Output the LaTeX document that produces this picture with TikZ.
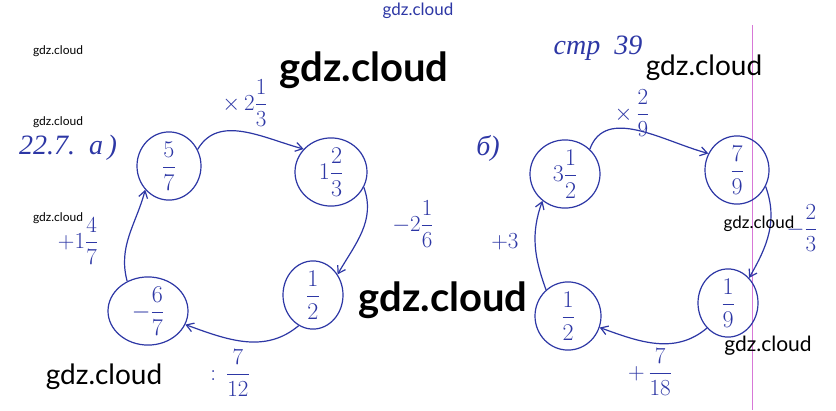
\RequirePackage{fix-cm}
\documentclass[tikz,border=0pt]{standalone}
\usepackage{fontspec}
\usepackage{amsmath}
\setmainfont{Liberation Serif}
\newfontfamily\wmfont{Lato}
\newfontfamily\handfont{Liberation Serif}
\usetikzlibrary{shapes.geometric,arrows.meta}
\definecolor{ink}{RGB}{45,55,165}
\definecolor{wmblack}{RGB}{0,0,0}
\definecolor{margin}{RGB}{215,120,215}
\tikzset{
  numnode/.style={ellipse,draw=ink,line width=1.2pt,inner sep=0pt,text=ink,font=\fontsize{24}{28}\selectfont},
  link/.style={draw=ink,line width=1.2pt,-{Straight Barb[length=7pt,width=9pt]}},
  lbl/.style={text=ink,inner sep=0pt,font=\fontsize{23}{26}\selectfont},
  hand/.style={text=ink,inner sep=0pt,font=\handfont\itshape\fontsize{28}{32}\selectfont},
  wm/.style={text=wmblack,inner sep=0pt,font=\wmfont},
}
\begin{document}
\begin{tikzpicture}[x=1pt,y=1pt]
\useasboundingbox (0,0) rectangle (836,-410);
\fill[white] (0,0) rectangle (836,-410);
% margin line
\coordinate (m1) at (752,-25);
\coordinate (m2) at (752,-410);
\draw[margin,line width=0.8pt] (m1) -- (m2);
% left cycle
\node[numnode,minimum width=64pt,minimum height=58pt] (A) at (169,-166) {$\dfrac{5}{7}$};
\node[numnode,minimum width=72pt,minimum height=66pt] (B) at (331,-172) {$1\dfrac{2}{3}$};
\node[numnode,minimum width=60pt,minimum height=66pt] (C) at (313,-295) {$\dfrac{1}{2}$};
\node[numnode,minimum width=80pt,minimum height=68pt] (D) at (148,-311) {$-\dfrac{6}{7}$};
\draw[link] (A.30) to[out=60,in=165] (B.140);
\draw[link] (B.-25) to[out=-70,in=60] (C.40);
\draw[link] (C.-115) to[out=-140,in=-20] (D.-20);
\draw[link] (D.125) to[out=105,in=-105] (A.-135);
\node[lbl] (lab1) at (245,-103) {$\times\,2\dfrac{1}{3}$};
\node[lbl] (lab2) at (413,-224) {$-2\dfrac{1}{6}$};
\node[lbl] (lab3) at (230,-373) {$:\,\dfrac{7}{12}$};
\node[lbl] (lab4) at (78,-241) {$+1\dfrac{4}{7}$};
\node[hand] (ta) at (68,-148) {22.7.\ \ а\,)};
% right cycle
\node[numnode,minimum width=70pt,minimum height=68pt] (E) at (565,-174) {$3\dfrac{1}{2}$};
\node[numnode,minimum width=64pt,minimum height=66pt] (F) at (737,-170) {$\dfrac{7}{9}$};
\node[numnode,minimum width=60pt,minimum height=60pt] (G) at (728,-303) {$\dfrac{1}{9}$};
\node[numnode,minimum width=66pt,minimum height=58pt] (H) at (568,-316) {$\dfrac{1}{2}$};
\draw[link] (E.45) to[out=70,in=165] (F.150);
\draw[link] (F.-30) to[out=-70,in=60] (G.50);
\draw[link] (G.-130) to[out=-140,in=-20] (H.-20);
\draw[link] (H.130) to[out=110,in=-110] (E.-130);
\node[lbl] (lab5) at (632,-113) {$\times\,\dfrac{2}{9}$};
\node[lbl] (lab6) at (802,-228) {$-\dfrac{2}{3}$};
\node[lbl] (lab7) at (650,-372) {$+\,\dfrac{7}{18}$};
\node[lbl] (lab8) at (505,-242) {$+3$};
\node[hand] (tb) at (488,-148) {б)};
\node[hand] (tp) at (598,-48) {стр\ \ 39};
% watermarks
\node[wm,text=ink,font=\wmfont\fontsize{17}{20}\selectfont] (w0) at (418,-11) {gdz.cloud};
\node[wm,font=\wmfont\fontsize{12}{14}\selectfont] (w1) at (58,-51) {gdz.cloud};
\node[wm,font=\wmfont\fontsize{12}{14}\selectfont] (w2) at (58,-122) {gdz.cloud};
\node[wm,font=\wmfont\fontsize{12}{14}\selectfont] (w3) at (58,-218) {gdz.cloud};
\node[wm,font=\wmfont\bfseries\fontsize{40}{46}\selectfont] (w4) at (364,-70) {gdz.cloud};
\node[wm,font=\wmfont\bfseries\fontsize{40}{46}\selectfont] (w5) at (443,-300) {gdz.cloud};
\node[wm,font=\wmfont\fontsize{28}{32}\selectfont] (w6) at (104,-377) {gdz.cloud};
\node[wm,font=\wmfont\fontsize{28}{32}\selectfont] (w7) at (704,-68) {gdz.cloud};
\node[wm,font=\wmfont\fontsize{17}{20}\selectfont] (w8) at (759,-224) {gdz.cloud};
\node[wm,font=\wmfont\fontsize{21}{24}\selectfont] (w9) at (768,-346) {gdz.cloud};
\end{tikzpicture}
\end{document}
